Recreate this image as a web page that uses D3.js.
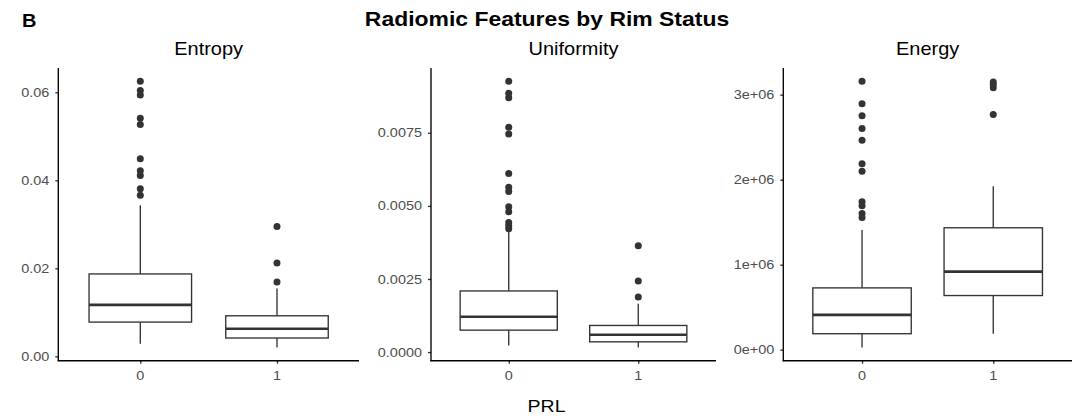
<!DOCTYPE html>
<html>
<head>
<meta charset="utf-8">
<script src="https://cdn.jsdelivr.net/npm/d3@7"></script>
<style>
  body { margin: 0; background: #fff; }
  svg { display: block; font-family: "Liberation Sans", Arial, sans-serif; }
</style>
</head>
<body>
<div id="chart"></div>
<script>
// PRL groups on the x axis
const categories = ["0", "1"];
const features = ["Entropy", "Uniformity", "Energy"];

// box stats per group: [lower whisker, q1, median, q3, upper whisker]
const entropyBox = [
  [0.00288, 0.00779, 0.01171, 0.01873, 0.03436],
  [0.00204, 0.00417, 0.00627, 0.00922, 0.0154]
];
const entropyOut = [
  [0.0625, 0.0604, 0.0594, 0.0541, 0.0527, 0.0449, 0.0422, 0.0411, 0.0381, 0.0366],
  [0.0295, 0.0212, 0.0169]
];
const uniformityBox = [
  [0.000225, 0.00075, 0.00121, 0.00209, 0.00417],
  [0.00016, 0.00035, 0.00059, 0.00091, 0.00165]
];
const uniformityOut = [
  [0.00926, 0.00885, 0.0087, 0.00769, 0.00746, 0.00611, 0.00564, 0.00549, 0.00497, 0.0048, 0.00443, 0.00432, 0.00422],
  [0.00364, 0.00243, 0.00188]
];
const energyBox = [
  [27000, 188000, 410000, 727000, 1407000],
  [188000, 637000, 918000, 1434000, 1922000]
];
const energyOut = [
  [3157000, 2892000, 2751000, 2602000, 2465000, 2188000, 2098000, 1739000, 1692000, 1602000, 1555000],
  [3150000, 3120000, 3080000, 2767000]
];

// tick values and labels
const entropyTicks = [0, 0.02, 0.04, 0.06];
const entropyLabels = ["0.00", "0.02", "0.04", "0.06"];
const uniformityTicks = [0, 0.0025, 0.005, 0.0075];
const uniformityLabels = ["0.0000", "0.0025", "0.0050", "0.0075"];
const energyTicks = [0, 1e6, 2e6, 3e6];
const energyLabels = ["0e+00", "1e+06", "2e+06", "3e+06"];

const panels = [
  { box: entropyBox, out: entropyOut, ticks: entropyTicks, labels: entropyLabels, left: 58.3, right: 359 },
  { box: uniformityBox, out: uniformityOut, ticks: uniformityTicks, labels: uniformityLabels, left: 431, right: 716 },
  { box: energyBox, out: energyOut, ticks: energyTicks, labels: energyLabels, left: 783.3, right: 1072 }
];

const W = 1086, H = 416;
const plotTop = 68, plotBottom = 360.7;
const stretch = 1.13; // text in the picture is a bit wider than tall
const ink = "#333333";
const lw = 1.35;

const svg = d3.select("#chart").append("svg")
  .attr("width", W)
  .attr("height", H);

function label(x, y, s, size, anchor, weight, fill) {
  return svg.append("text")
    .attr("transform", `translate(${x},${y}) scale(${stretch},1)`)
    .attr("text-anchor", anchor)
    .attr("font-size", size)
    .attr("font-weight", weight || "normal")
    .attr("fill", fill || "#000")
    .text(s);
}

label(22, 26.7, "B", 17.7, "start", "bold");
label(547, 26, "Radiomic Features by Rim Status", 20.3, "middle", "bold");
label(546.5, 411.7, "PRL", 17.3, "middle");

panels.forEach((p, i) => {
  // y range from all values, plus 5% on each side like ggplot
  const all = p.box.flat().concat(p.out.flat());
  const lo = d3.min(all), hi = d3.max(all);
  const pad = (hi - lo) * 0.05;

  const y = d3.scaleLinear()
    .domain([lo - pad, hi + pad])
    .range([plotBottom, plotTop]);

  const x = d3.scalePoint()
    .domain(categories)
    .range([p.left, p.right])
    .padding(0.6);

  const bw = x.step() * 0.75;
  const g = svg.append("g");

  // strip title
  label((p.left + p.right) / 2, 54.5, features[i], 17.7, "middle");

  // y axis
  const yAxis = g.append("g")
    .attr("transform", `translate(${p.left},0)`)
    .call(d3.axisLeft(y).tickValues(p.ticks).tickSize(3).tickPadding(6).tickFormat((d, k) => p.labels[k]));
  yAxis.select(".domain").remove();
  yAxis.selectAll(".tick line").attr("stroke", ink).attr("stroke-width", lw);
  yAxis.selectAll(".tick text").remove();
  p.ticks.forEach((t, k) => {
    label(p.left - 9, y(t) + 4.6, p.labels[k], 12.8, "end", "normal", "#4d4d4d");
  });

  // x axis
  const xAxis = g.append("g")
    .attr("transform", `translate(0,${plotBottom})`)
    .call(d3.axisBottom(x).tickSize(3));
  xAxis.select(".domain").remove();
  xAxis.selectAll(".tick line").attr("stroke", ink).attr("stroke-width", lw);
  xAxis.selectAll(".tick text").remove();
  categories.forEach(c => {
    label(x(c), 380, c, 12.8, "middle", "normal", "#4d4d4d");
  });

  // axis lines
  g.append("line")
    .attr("x1", p.left).attr("x2", p.left)
    .attr("y1", plotTop).attr("y2", plotBottom + 0.6)
    .attr("stroke", "#000").attr("stroke-width", lw);
  g.append("line")
    .attr("x1", p.left - 0.6).attr("x2", p.right)
    .attr("y1", plotBottom).attr("y2", plotBottom)
    .attr("stroke", "#000").attr("stroke-width", lw);

  // boxes
  const boxes = g.selectAll(".box")
    .data(p.box)
    .enter()
    .append("g");

  boxes.append("line") // lower whisker
    .attr("x1", (d, k) => x(categories[k])).attr("x2", (d, k) => x(categories[k]))
    .attr("y1", d => y(d[0])).attr("y2", d => y(d[1]))
    .attr("stroke", ink).attr("stroke-width", lw);
  boxes.append("line") // upper whisker
    .attr("x1", (d, k) => x(categories[k])).attr("x2", (d, k) => x(categories[k]))
    .attr("y1", d => y(d[3])).attr("y2", d => y(d[4]))
    .attr("stroke", ink).attr("stroke-width", lw);
  boxes.append("rect")
    .attr("x", (d, k) => x(categories[k]) - bw / 2)
    .attr("y", d => y(d[3]))
    .attr("width", bw)
    .attr("height", d => y(d[1]) - y(d[3]))
    .attr("fill", "#fff")
    .attr("stroke", ink).attr("stroke-width", lw);
  boxes.append("line") // median
    .attr("x1", (d, k) => x(categories[k]) - bw / 2).attr("x2", (d, k) => x(categories[k]) + bw / 2)
    .attr("y1", d => y(d[2])).attr("y2", d => y(d[2]))
    .attr("stroke", ink).attr("stroke-width", 2.6);

  // outliers
  p.out.forEach((vals, k) => {
    g.selectAll(null)
      .data(vals)
      .enter()
      .append("circle")
      .attr("cx", x(categories[k]))
      .attr("cy", d => y(d))
      .attr("r", 3.5)
      .attr("fill", ink);
  });
});
</script>
</body>
</html>
